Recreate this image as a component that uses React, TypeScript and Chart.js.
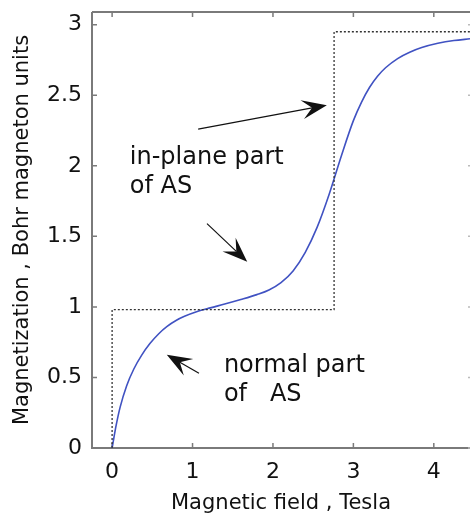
import React, { useEffect, useRef } from "react";
import { Chart, registerables } from "chart.js";

Chart.register(...registerables);

// Magnetization curve (blue)
const fieldT = [0, 0.05, 0.1, 0.18, 0.27, 0.37, 0.47, 0.58, 0.68, 0.8, 0.9, 1.05, 1.22, 1.4, 1.6, 1.8, 1.95, 2.1, 2.25, 2.4, 2.55, 2.7, 2.85, 3.0, 3.1, 3.2, 3.3, 3.4, 3.55, 3.7, 3.85, 4.05, 4.25, 4.45];
const magnetization = [0, 0.16, 0.29, 0.44, 0.56, 0.66, 0.74, 0.81, 0.86, 0.905, 0.933, 0.965, 0.993, 1.02, 1.052, 1.087, 1.12, 1.172, 1.255, 1.385, 1.565, 1.8, 2.07, 2.32, 2.45, 2.555, 2.635, 2.695, 2.76, 2.805, 2.838, 2.868, 2.888, 2.9];

// Dotted step (ideal)
const stepField = [0, 0, 2.76, 2.76, 4.45];
const stepMag = [0, 0.98, 0.98, 2.95, 2.95];

const xTicks = [0, 1, 2, 3, 4];
const yTicks = [0, 0.5, 1, 1.5, 2, 2.5, 3];
const xRange = [-0.25, 4.45];
const yRange = [0, 3.09];

const xTitle = "Magnetic field , Tesla";
const yTitle = "Magnetization , Bohr magneton units";

// Annotations (anchors in data units)
const noteLines = [["in-plane part", "of AS"], ["normal part", "of   AS"]];
const noteX = [0.22, 1.39];
const noteY = [2.01, 0.54];

const arrowFromX = [1.07, 1.18, 1.08];
const arrowFromY = [2.26, 1.59, 0.53];
const arrowToX = [2.67, 1.68, 0.68];
const arrowToY = [2.43, 1.32, 0.66];

const FONT = "'DejaVu Sans', sans-serif";

function drawArrow(ctx: CanvasRenderingContext2D, x1: number, y1: number, x2: number, y2: number) {
  const ang = Math.atan2(y2 - y1, x2 - x1);
  const c = Math.cos(ang), s = Math.sin(ang);
  const len = 25, half = 9.5, notch = 15;
  ctx.beginPath();
  ctx.moveTo(x1, y1);
  ctx.lineTo(x2 - notch * c, y2 - notch * s);
  ctx.stroke();
  const bx = x2 - len * c, by = y2 - len * s;
  const px = -s, py = c;
  ctx.beginPath();
  ctx.moveTo(x2, y2);
  ctx.lineTo(bx + half * px, by + half * py);
  ctx.lineTo(x2 - notch * c, y2 - notch * s);
  ctx.lineTo(bx - half * px, by - half * py);
  ctx.closePath();
  ctx.fill();
}

const framePlugin = {
  id: "frame",
  beforeDatasetsDraw(chart: any) {
    const { ctx, chartArea: a, scales } = chart;
    const x = scales.x, y = scales.y;
    ctx.save();
    ctx.strokeStyle = "#7a7a7a";
    ctx.lineWidth = 2;
    ctx.beginPath();
    ctx.moveTo(a.left, a.top);
    ctx.lineTo(a.left, a.bottom);
    ctx.lineTo(a.right, a.bottom);
    ctx.moveTo(a.left, a.top);
    ctx.lineTo(a.right, a.top);
    ctx.stroke();
    ctx.lineWidth = 1.5;
    const L = 5;
    ctx.beginPath();
    for (const v of xTicks) {
      const px = x.getPixelForValue(v);
      ctx.moveTo(px, a.bottom);
      ctx.lineTo(px, a.bottom - L);
      ctx.moveTo(px, a.top);
      ctx.lineTo(px, a.top + L);
    }
    for (const v of yTicks) {
      const py = y.getPixelForValue(v);
      ctx.moveTo(a.left, py);
      ctx.lineTo(a.left + L, py);
    }
    ctx.stroke();
    ctx.strokeStyle = "#bbbbbb";
    ctx.beginPath();
    for (const v of yTicks) {
      const py = y.getPixelForValue(v);
      ctx.moveTo(a.right, py);
      ctx.lineTo(a.right - 2, py);
    }
    ctx.stroke();
    ctx.restore();
  },
  afterDraw(chart: any) {
    const { ctx, scales } = chart;
    const x = scales.x, y = scales.y;
    ctx.save();
    ctx.fillStyle = "#111";
    ctx.font = `24px ${FONT}`;
    ctx.textAlign = "left";
    ctx.textBaseline = "alphabetic";
    noteLines.forEach((lines, i) => {
      const px = x.getPixelForValue(noteX[i]);
      const py = y.getPixelForValue(noteY[i]);
      lines.forEach((t, j) => ctx.fillText(t, px, py + j * 29));
    });
    ctx.strokeStyle = "#111";
    ctx.lineWidth = 1.2;
    for (let i = 0; i < arrowFromX.length; i++) {
      drawArrow(
        ctx,
        x.getPixelForValue(arrowFromX[i]),
        y.getPixelForValue(arrowFromY[i]),
        x.getPixelForValue(arrowToX[i]),
        y.getPixelForValue(arrowToY[i])
      );
    }
    ctx.restore();
  },
};

export default function App() {
  const ref = useRef<HTMLCanvasElement | null>(null);
  useEffect(() => {
    if (!ref.current) return;
    const chart = new Chart(ref.current, {
      type: "scatter",
      data: {
        datasets: [
          {
            data: stepField.map((v, i) => ({ x: v, y: stepMag[i] })),
            showLine: true,
            borderColor: "#333",
            borderWidth: 1.3,
            borderDash: [2, 2],
            pointRadius: 0,
            tension: 0,
          },
          {
            data: fieldT.map((v, i) => ({ x: v, y: magnetization[i] })),
            showLine: true,
            borderColor: "#4052c2",
            borderWidth: 1.6,
            pointRadius: 0,
            cubicInterpolationMode: "monotone",
          },
        ],
      },
      options: {
        responsive: false,
        animation: false,
        layout: { padding: { top: 12, right: 0, left: 0, bottom: 0 } },
        plugins: { legend: { display: false }, tooltip: { enabled: false } },
        scales: {
          x: {
            type: "linear",
            min: xRange[0],
            max: xRange[1],
            afterBuildTicks: (s: any) => { s.ticks = xTicks.map((v) => ({ value: v })); },
            afterFit: (s: any) => { s.height = 68; s.paddingLeft = 0; s.paddingRight = 0; },
            grid: { display: false, drawTicks: false },
            border: { display: false },
            ticks: { padding: 11, color: "#111", font: { family: FONT, size: 22 }, callback: (v: any) => String(v), maxRotation: 0 },
            title: { display: true, text: xTitle, color: "#111", font: { family: FONT, size: 21 }, padding: { top: 0, bottom: 0 } },
          },
          y: {
            type: "linear",
            min: yRange[0],
            max: yRange[1],
            afterBuildTicks: (s: any) => { s.ticks = yTicks.map((v) => ({ value: v })); },
            afterFit: (s: any) => { s.width = 92; s.paddingTop = 0; s.paddingBottom = 0; },
            grid: { display: false, drawTicks: false },
            border: { display: false },
            ticks: { padding: 10, color: "#111", font: { family: FONT, size: 22 }, callback: (v: any) => String(v) },
            title: { display: true, text: yTitle, color: "#111", font: { family: FONT, size: 21 }, padding: { top: 10, bottom: 0 } },
          },
        },
      },
      plugins: [framePlugin],
    } as any);
    return () => chart.destroy();
  }, []);
  return (
    <div style={{ position: "absolute", left: 0, top: 0, width: 470, height: 516, background: "#fff" }}>
      <canvas ref={ref} width={470} height={516} />
    </div>
  );
}
